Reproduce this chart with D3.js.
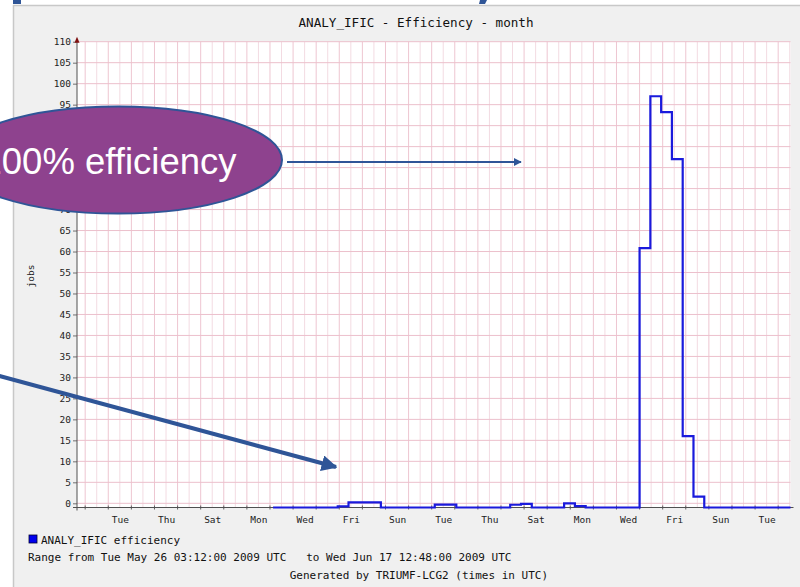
<!DOCTYPE html>
<html>
<head>
<meta charset="utf-8">
<script src="https://cdn.jsdelivr.net/npm/d3@7"></script>
<style>
  html, body { margin: 0; padding: 0; background: #ffffff; }
  svg { display: block; }
</style>
</head>
<body>
<svg id="chart" width="800" height="587"></svg>
<script>
// ---- data ----------------------------------------------------------------
const seriesName = "ANALY_IFIC efficiency";
const chartTitle = "ANALY_IFIC - Efficiency - month";
const yLabel = "jobs";
const rangeText = "Range from Tue May 26 03:12:00 2009 UTC   to Wed Jun 17 12:48:00 2009 UTC";
const footerText = "Generated by TRIUMF-LCG2 (times in UTC)";

// 48 consolidated samples of 11.2 h each, starting Tue May 26 03:12 UTC
const sampleStart = "2009-05-26T03:12:00Z";
const sampleEnd = "2009-06-17T12:48:00Z";
const efficiency = [
  -1, -1, -1, -1, -1, -1, -0.75, 0.2, 0.2, 0.2,
  -1, -1, -1, -1, -1, -0.3, -0.3, -1, -1, -1,
  -1, -1, -0.35, -0.15, -1, -1, -1, 0, -0.65, -1,
  -1, -1, -1, -1, 60.8, 97, 93.2, 82, 16, 1.6,
  -1, -1, -1, -1, -1, -1, -1, -1
];

const yTicks = [0,5,10,15,20,25,30,35,40,45,50,55,60,65,70,75,80,85,90,95,100,105,110];
const dayLabelDates = [
  "2009-05-19T12:00:00Z","2009-05-21T12:00:00Z","2009-05-23T12:00:00Z","2009-05-25T12:00:00Z",
  "2009-05-27T12:00:00Z","2009-05-29T12:00:00Z","2009-05-31T12:00:00Z","2009-06-02T12:00:00Z",
  "2009-06-04T12:00:00Z","2009-06-06T12:00:00Z","2009-06-08T12:00:00Z","2009-06-10T12:00:00Z",
  "2009-06-12T12:00:00Z","2009-06-14T12:00:00Z","2009-06-16T12:00:00Z"
];
const axisStart = "2009-05-17T15:30:00Z";

// callout text laid over the graph
const calloutText = "100% efficiency";

// ---- layout --------------------------------------------------------------
const svg = d3.select("#chart");
const W = 800, H = 587;
const plot = { left: 77, right: 790.5, top: 41.7, bottom: 507.5 };
const mono = "'DejaVu Sans Mono', 'Liberation Mono', monospace";

const x = d3.scaleUtc()
  .domain([new Date(axisStart), new Date(sampleEnd)])
  .range([plot.left, plot.right]);
const y = d3.scaleLinear()
  .domain([-1, 110])
  .range([plot.bottom, plot.top]);

// page / image background
svg.append("rect").attr("width", W).attr("height", H).attr("fill", "#ffffff");
svg.append("rect").attr("x", 13).attr("y", 5).attr("width", W - 13).attr("height", H - 5)
  .attr("fill", "#f0f0f0");
svg.append("line").attr("x1", 13).attr("x2", W).attr("y1", 5.5).attr("y2", 5.5)
  .attr("stroke", "#c8c8c8").attr("stroke-width", 1.5);
svg.append("line").attr("x1", 13.5).attr("x2", 13.5).attr("y1", 5).attr("y2", H)
  .attr("stroke", "#c8c8c8").attr("stroke-width", 1.5);

// canvas
svg.append("rect")
  .attr("x", plot.left).attr("y", plot.top)
  .attr("width", plot.right - plot.left).attr("height", plot.bottom - plot.top)
  .attr("fill", "#ffffff");

// vertical grid: every 12 hours
const gridTimes = d3.utcHour.every(12).range(new Date("2009-05-18T00:00:00Z"), new Date(sampleEnd));
svg.append("g").selectAll("line").data(gridTimes).join("line")
  .attr("x1", d => x(d)).attr("x2", d => x(d))
  .attr("y1", plot.top).attr("y2", plot.bottom)
  .attr("stroke", d => d.getUTCHours() === 0 ? "#eec6d1" : "#f3dbe2")
  .attr("stroke-width", 1);

// horizontal grid
svg.append("g").selectAll("line").data(yTicks).join("line")
  .attr("x1", plot.left).attr("x2", plot.right)
  .attr("y1", d => y(d)).attr("y2", d => y(d))
  .attr("stroke", "#ecc0cc").attr("stroke-width", 1);

// y axis labels and ticks
const yAxis = d3.axisLeft(y).tickValues(yTicks).tickSize(4).tickPadding(2);
const gy = svg.append("g").attr("transform", `translate(${plot.left},0)`).call(yAxis);
gy.select(".domain").remove();
gy.selectAll(".tick line").attr("stroke", "#707070");
gy.selectAll(".tick text").attr("font-family", mono).attr("font-size", 9.5).attr("fill", "#222");

// x axis labels
const xAxis = d3.axisBottom(x)
  .tickValues(dayLabelDates.map(s => new Date(s)))
  .tickFormat(d3.utcFormat("%a")).tickSize(0).tickPadding(9);
const gx = svg.append("g").attr("transform", `translate(0,${plot.bottom})`).call(xAxis);
gx.select(".domain").remove();
gx.selectAll(".tick text").attr("font-family", mono).attr("font-size", 9.5).attr("fill", "#222");

// small ticks on the x axis every day
const dayTicks = d3.utcDay.every(1).range(new Date("2009-05-18T00:00:00Z"), new Date(sampleEnd));
svg.append("g").selectAll("line").data(dayTicks).join("line")
  .attr("x1", d => x(d)).attr("x2", d => x(d))
  .attr("y1", plot.bottom - 2).attr("y2", plot.bottom + 2)
  .attr("stroke", "#606060");

// axis lines
svg.append("line").attr("x1", plot.left - 4).attr("x2", plot.right + 3)
  .attr("y1", plot.bottom).attr("y2", plot.bottom)
  .attr("stroke", "#505050").attr("stroke-width", 1);
svg.append("line").attr("x1", plot.left).attr("x2", plot.left)
  .attr("y1", plot.bottom + 3).attr("y2", plot.top - 3)
  .attr("stroke", "#505050").attr("stroke-width", 1);
// arrow head on the y axis
svg.append("path")
  .attr("d", `M${plot.left - 2.5},${plot.top + 1} L${plot.left},${plot.top - 5} L${plot.left + 2.5},${plot.top + 1} Z`)
  .attr("fill", "#801010");

// the series as a step line
const t0 = new Date(sampleStart).getTime();
const t1 = new Date(sampleEnd).getTime();
const step = (t1 - t0) / efficiency.length;
const points = efficiency.map((v, i) => ({ t: new Date(t0 + i * step), v }));
points.push({ t: new Date(t1), v: efficiency[efficiency.length - 1] });
const line = d3.line().x(d => x(d.t)).y(d => y(d.v)).curve(d3.curveStepAfter);
svg.append("path").datum(points)
  .attr("d", line)
  .attr("fill", "none")
  .attr("stroke", "#1a1adc")
  .attr("stroke-width", 2.2)
  .attr("stroke-linejoin", "miter");

// title
svg.append("text").attr("x", 416).attr("y", 27)
  .attr("text-anchor", "middle")
  .attr("font-family", mono).attr("font-size", 12.6).attr("fill", "#111")
  .text(chartTitle);

// vertical unit label
svg.append("text")
  .attr("transform", "translate(34,276) rotate(-90)")
  .attr("text-anchor", "middle")
  .attr("font-family", mono).attr("font-size", 9.5).attr("fill", "#222")
  .text(yLabel);

// legend
svg.append("rect").attr("x", 29).attr("y", 535).attr("width", 8).attr("height", 8)
  .attr("fill", "#0000ee").attr("stroke", "#000033").attr("stroke-width", 0.8);
svg.append("text").attr("x", 41).attr("y", 543.5)
  .attr("font-family", mono).attr("font-size", 11).attr("fill", "#111")
  .text(seriesName);
svg.append("text").attr("x", 28).attr("y", 561)
  .attr("font-family", mono).attr("font-size", 11).attr("fill", "#111")
  .attr("xml:space", "preserve").style("white-space", "pre")
  .text(rangeText);
svg.append("text").attr("x", 548).attr("y", 579)
  .attr("text-anchor", "end")
  .attr("font-family", mono).attr("font-size", 11).attr("fill", "#111")
  .text(footerText);

// bits of the slide heading above the image
svg.append("rect").attr("x", 13).attr("y", 0).attr("width", 8).attr("height", 4).attr("fill", "#2f5597");
svg.append("path").attr("d", "M480,0 L487,0 L485,4 L479,4 Z").attr("fill", "#2f5597");

// callout ellipse and arrows
const arrowBlue = "#2f5597";
const defs = svg.append("defs");
defs.append("marker").attr("id", "headA").attr("viewBox", "0 0 10 10")
  .attr("refX", 9).attr("refY", 5).attr("markerWidth", 8).attr("markerHeight", 8)
  .attr("markerUnits", "userSpaceOnUse").attr("orient", "auto")
  .append("path").attr("d", "M0,0 L10,5 L0,10 Z").attr("fill", arrowBlue);
defs.append("marker").attr("id", "headB").attr("viewBox", "0 0 10 10")
  .attr("refX", 9).attr("refY", 5).attr("markerWidth", 4).attr("markerHeight", 4)
  .attr("orient", "auto")
  .append("path").attr("d", "M0,0 L10,5 L0,10 Z").attr("fill", arrowBlue);

svg.append("ellipse").attr("cx", 118).attr("cy", 160).attr("rx", 164).attr("ry", 53.5)
  .attr("fill", "#8e428e").attr("stroke", arrowBlue).attr("stroke-width", 2);
svg.append("text").attr("x", -18.5).attr("y", 174)
  .attr("text-anchor", "start")
  .attr("font-family", "'Liberation Sans', Arial, sans-serif").attr("font-size", 36.5)
  .attr("fill", "#ffffff")
  .text(calloutText);

svg.append("line").attr("x1", 287).attr("y1", 162).attr("x2", 521).attr("y2", 162)
  .attr("stroke", arrowBlue).attr("stroke-width", 2).attr("marker-end", "url(#headA)");
svg.append("line").attr("x1", -4).attr("y1", 375).attr("x2", 336).attr("y2", 467)
  .attr("stroke", arrowBlue).attr("stroke-width", 4).attr("marker-end", "url(#headB)");
</script>
</body>
</html>
